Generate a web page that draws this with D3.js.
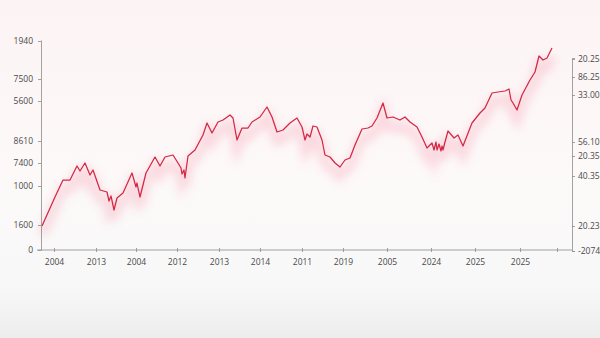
<!DOCTYPE html>
<html>
<head>
<meta charset="utf-8">
<script src="https://cdn.jsdelivr.net/npm/d3@7"></script>
<style>
  body { margin: 0; background: #fbf8f8; }
  svg { display: block; }
  .axis text { font-family: "Open Sans", sans-serif; font-size: 8.5px; fill: #4a4a4a; }
  .axis path, .axis line { stroke: #8c8c8c; stroke-width: 0.8; }
</style>
</head>
<body>
<div id="chart"></div>
<script>
// series (t = position along the time axis, v = level)
var seriesT = [0, 13, 21, 28, 35, 38, 43, 48, 51, 58, 65, 67, 69, 72, 75, 81, 90, 94, 95, 96,
  98, 104, 113, 118, 123, 131, 136, 139, 140, 142, 143, 146, 153, 161, 165, 170, 176, 181, 188, 191,
  195, 200, 206, 210, 218, 225, 230, 235, 241, 248, 255, 260, 263, 265, 268, 271, 275, 280, 283, 288,
  293, 298, 303, 308, 313, 320, 326, 330, 335, 341, 345, 351, 358, 363, 368, 375, 380, 385, 390, 392,
  394, 395, 397, 399, 400, 401, 403, 406, 412, 416, 421, 430, 438, 443, 450, 456, 463, 467, 469, 471,
  475, 480, 488, 493, 497, 501, 505, 510];
var seriesV = [24, 53, 70, 70, 84, 79, 87, 75, 80, 60, 58, 49, 54, 40, 52, 57, 77, 63, 67, 62,
  53, 77, 93, 84, 93, 95, 87, 82, 76, 80, 72, 94, 100, 115, 127, 117, 128, 130, 135, 132,
  110, 122, 122, 128, 133, 143, 133, 118, 120, 127, 132, 123, 110, 116, 113, 124, 123, 110, 95, 93,
  87, 83, 90, 92, 105, 121, 122, 124, 132, 147, 132, 133, 130, 133, 128, 123, 113, 102, 107, 100,
  108, 100, 106, 99, 104, 100, 108, 119, 112, 115, 104, 127, 137, 142, 157, 158, 159, 161, 150, 147,
  140, 155, 170, 178, 194, 190, 192, 202];

// bottom axis
var xTickValues = [12, 54, 94, 135, 177, 218, 260, 301, 345, 389, 433, 478, 515];
var xTickLabels = ["2004", "2013", "2004", "2012", "2013", "2014", "2011", "2019", "2005", "2024", "2025", "2025", ""];

// left axis
var leftTickValues = [209, 171, 149, 109, 87, 64, 25, 0];
var leftTickLabels = ["1940", "7500", "5600", "8610", "7400", "1000", "1600", "0"];

// right axis
var rightTickValues = [191, 173, 155, 108, 94, 74, 24, -1];
var rightTickLabels = ["20.25", "86.25", "33.00", "56.10", "20.35", "40.35", "20.23", "-2074"];

var svgWidth = 600;
var svgHeight = 338;

var svg = d3.select("#chart")
  .append("svg")
  .attr("width", svgWidth)
  .attr("height", svgHeight);

var defs = svg.append("defs");

// soft background
var bg = defs.append("linearGradient")
  .attr("id", "bg")
  .attr("x1", 0).attr("y1", 0).attr("x2", 0).attr("y2", 1);
bg.append("stop").attr("offset", "0%").attr("stop-color", "#fcf3f4");
bg.append("stop").attr("offset", "50%").attr("stop-color", "#fdf9f9");
bg.append("stop").attr("offset", "85%").attr("stop-color", "#f8f8f8");
bg.append("stop").attr("offset", "100%").attr("stop-color", "#ededed");

var glow = defs.append("filter")
  .attr("id", "glow")
  .attr("x", "-10%").attr("y", "-30%")
  .attr("width", "120%").attr("height", "160%");
glow.append("feGaussianBlur").attr("stdDeviation", 5);

var soft = defs.append("filter").attr("id", "soft");
soft.append("feGaussianBlur").attr("stdDeviation", 0.3);

svg.append("rect")
  .attr("width", svgWidth)
  .attr("height", svgHeight)
  .attr("fill", "url(#bg)");

var xScale = d3.scaleLinear()
  .domain([0, 510])
  .range([42, 552]);

var yScale = d3.scaleLinear()
  .domain([0, 210])
  .range([250, 40]);

var line = d3.line()
  .x(function(d, i) { return xScale(seriesT[i]); })
  .y(function(d) { return yScale(d); });

// pink haze under the line
svg.append("path")
  .datum(seriesV)
  .attr("d", line)
  .attr("transform", "translate(0, 9)")
  .attr("fill", "none")
  .attr("stroke", "#f06080")
  .attr("stroke-width", 10)
  .attr("opacity", 0.2)
  .attr("filter", "url(#glow)");

svg.append("path")
  .datum(seriesV)
  .attr("d", line)
  .attr("fill", "none")
  .attr("stroke", "#d42844")
  .attr("stroke-width", 1.25)
  .attr("stroke-linejoin", "round")
  .attr("filter", "url(#soft)");

// bottom axis
var bottomAxis = d3.axisBottom(xScale)
  .tickValues(xTickValues)
  .tickFormat(function(d, i) { return xTickLabels[i]; })
  .tickSize(3)
  .tickPadding(6);

var gx = svg.append("g")
  .attr("class", "axis")
  .attr("transform", "translate(0, 250)")
  .call(bottomAxis);
gx.select(".domain").remove();
gx.selectAll(".tick line").attr("y1", -2).attr("y2", 2);
gx.append("line")
  .attr("x1", 37).attr("x2", 572)
  .attr("stroke", "#8c8c8c").attr("stroke-width", 0.8);

// left axis
var leftAxis = d3.axisLeft(yScale)
  .tickValues(leftTickValues)
  .tickFormat(function(d, i) { return leftTickLabels[i]; })
  .tickSize(3)
  .tickSizeOuter(0)
  .tickPadding(5);

var gl = svg.append("g")
  .attr("class", "axis")
  .attr("transform", "translate(41, 0)")
  .call(leftAxis);
gl.selectAll(".tick text").attr("x", -8);

// right axis
var rightScale = yScale.copy().domain([-1, 192]).range([251, 58]);
var rightAxis = d3.axisRight(rightScale)
  .tickValues(rightTickValues)
  .tickFormat(function(d, i) { return rightTickLabels[i]; })
  .tickSize(3)
  .tickSizeOuter(3)
  .tickPadding(3);

svg.append("g")
  .attr("class", "axis")
  .attr("transform", "translate(572, 0)")
  .call(rightAxis);
</script>
</body>
</html>
